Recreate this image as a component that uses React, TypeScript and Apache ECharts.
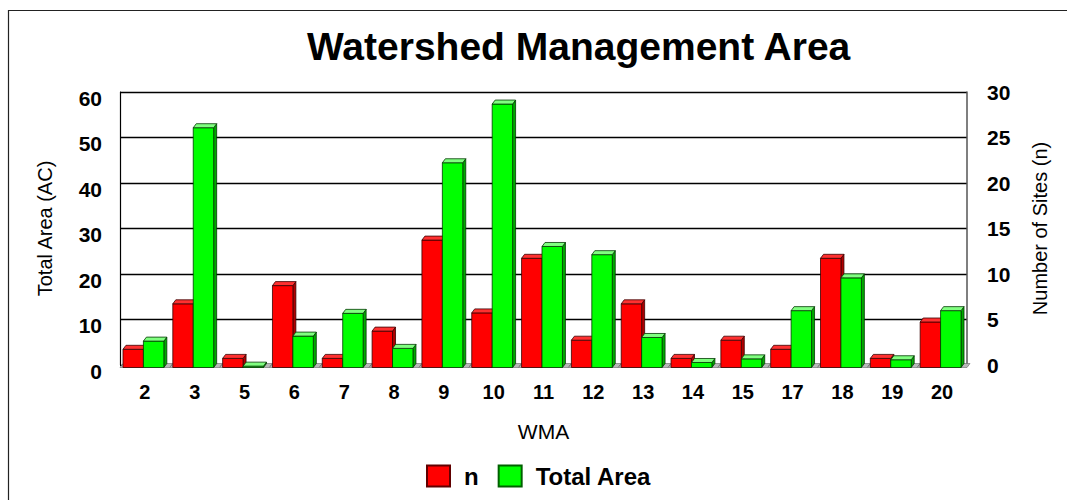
import React, { useEffect, useRef } from "react";
import * as echarts from "echarts";

const categories = ["2", "3", "5", "6", "7", "8", "9", "10", "11", "12", "13", "14", "15", "17", "18", "19", "20"];
const nValues = [2, 7, 1, 9, 1, 4, 14, 6, 12, 3, 7, 1, 3, 2, 12, 1, 5];
const areaValues = [5.8, 52.7, 0.3, 6.9, 11.9, 4.2, 45, 57.9, 26.6, 24.8, 6.6, 1.1, 1.9, 12.5, 19.7, 1.7, 12.5];

const FONT = "'Liberation Sans', Arial, sans-serif";
const DX = 3;
const DY = 4;
const OFF = 2.5;

function bar3D(front: string, top: string, side: string, stroke: string, leftSide: boolean) {
  return (params: any, api: any) => {
    const i = api.value(0);
    const v = api.value(1);
    const band = api.size([1, 0])[0];
    const c = api.coord([i, v]);
    const b = api.coord([i, 0]);
    const w = band * 0.41;
    const x0 = leftSide ? c[0] - w - 1.5 : c[0] - 1.5;
    const yT = c[1] + OFF;
    const yB = b[1] + OFF;
    const st = { stroke, lineWidth: 0.8 };
    return {
      type: "group",
      children: [
        {
          type: "polygon",
          shape: { points: [[x0 + w, yT], [x0 + w + DX, yT - DY], [x0 + w + DX, yB - DY], [x0 + w, yB]] },
          style: { fill: side, ...st },
        },
        {
          type: "rect",
          shape: { x: x0, y: yT, width: w, height: Math.max(yB - yT, 0) },
          style: { fill: front, ...st },
        },
        {
          type: "polygon",
          shape: { points: [[x0, yT], [x0 + DX, yT - DY], [x0 + w + DX, yT - DY], [x0 + w, yT]] },
          style: { fill: top, ...st },
        },
      ],
    };
  };
}

function floorItem(params: any, api: any) {
  const i = api.value(0);
  const band = api.size([1, 0])[0];
  const b = api.coord([i, 0]);
  const x0 = b[0] - band / 2;
  const yB = b[1] + OFF;
  return {
    type: "polygon",
    shape: { points: [[x0, yB], [x0 + DX, yB - DY], [x0 + band + DX, yB - DY], [x0 + band, yB]] },
    style: { fill: "#b8b8b8", stroke: "#666", lineWidth: 0.6 },
  };
}

export default function App() {
  const ref = useRef<HTMLDivElement>(null);
  useEffect(() => {
    if (!ref.current) return;
    const chart = echarts.init(ref.current, undefined, { renderer: "svg" });
    const floorData = categories.map((_, i) => [i, 0]);
    chart.setOption({
      animation: false,
      backgroundColor: "#fff",
      textStyle: { fontFamily: FONT },
      title: {
        text: "Watershed Management Area",
        left: 302,
        top: 22,
        textStyle: { fontSize: 39, fontWeight: "bold", color: "#000", fontFamily: FONT },
      },
      graphic: [
        {
          type: "rect",
          shape: { x: 8.5, y: 10.5, width: 1200, height: 600 },
          style: { fill: "none", stroke: "#222", lineWidth: 1.2 },
          silent: true,
        },
      ],
      legend: {
        data: ["n", "Total Area"],
        left: 426,
        top: 464,
        padding: 0,
        itemWidth: 23,
        itemHeight: 21,
        itemGap: 19,
        icon: "rect",
        textStyle: { fontSize: 24, fontWeight: "bold", color: "#000", fontFamily: FONT, padding: [0, 0, 0, 9] },
      },
      grid: { left: 120, right: 100, top: 92, bottom: 135 },
      xAxis: {
        type: "category",
        data: categories,
        name: "WMA",
        nameLocation: "middle",
        nameGap: 56,
        nameTextStyle: { fontSize: 21, color: "#000", fontFamily: FONT },
        axisLine: { show: false },
        axisTick: { show: false },
        axisLabel: { fontSize: 20, fontWeight: "bold", color: "#000", margin: 17, fontFamily: FONT },
      },
      yAxis: [
        {
          type: "value",
          min: 0,
          max: 60,
          interval: 10,
          name: "Total Area (AC)",
          nameLocation: "middle",
          nameGap: 65,
          nameTextStyle: { fontSize: 20, color: "#000", fontFamily: FONT },
          axisLine: { show: true, lineStyle: { color: "#000", width: 1.2 } },
          axisTick: { show: false },
          axisLabel: {
            fontSize: 21,
            fontWeight: "bold",
            color: "#000",
            margin: 18,
            verticalAlign: "top",
            lineHeight: 12,
            fontFamily: FONT,
          },
          splitLine: { show: true, lineStyle: { color: "#000", width: 1.3 } },
        },
        {
          type: "value",
          min: 0,
          max: 30,
          interval: 5,
          position: "right",
          name: "Number of Sites (n)",
          nameLocation: "middle",
          nameGap: 63,
          nameTextStyle: { fontSize: 20, color: "#000", fontFamily: FONT },
          axisLine: { show: true, lineStyle: { color: "#555", width: 1.5 } },
          axisTick: { show: false },
          axisLabel: { fontSize: 21, fontWeight: "bold", color: "#000", margin: 20, fontFamily: FONT },
          splitLine: { show: false },
        },
      ],
      series: [
        {
          name: "floor",
          type: "custom",
          yAxisIndex: 0,
          renderItem: floorItem,
          data: floorData,
          encode: { x: 0, y: 1 },
          silent: true,
          z: 1,
        },
        {
          name: "n",
          type: "custom",
          yAxisIndex: 1,
          renderItem: bar3D("#ff0000", "#ff3030", "#b00000", "#3a0000", true),
          itemStyle: { color: "#ff0000", borderColor: "#600000", borderWidth: 1 },
          data: nValues.map((v, i) => [i, v]),
          encode: { x: 0, y: 1 },
          z: 3,
        },
        {
          name: "Total Area",
          type: "custom",
          yAxisIndex: 0,
          renderItem: bar3D("#00ff00", "#80ff80", "#00a800", "#003a00", false),
          itemStyle: { color: "#00ff00", borderColor: "#006000", borderWidth: 1 },
          data: areaValues.map((v, i) => [i, v]),
          encode: { x: 0, y: 1 },
          z: 3,
        },
      ],
    });
    return () => chart.dispose();
  }, []);
  return <div ref={ref} style={{ position: "absolute", left: 0, top: 0, width: 1067, height: 500 }} />;
}
